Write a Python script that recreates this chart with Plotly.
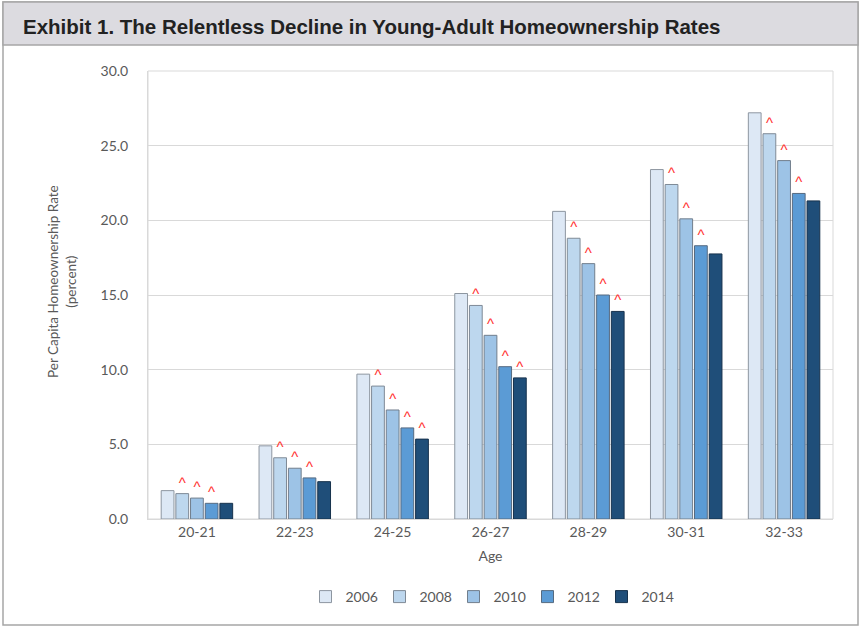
import plotly.graph_objects as go

ages = ["20-21", "22-23", "24-25", "26-27", "28-29", "30-31", "32-33"]
years = ["2006", "2008", "2010", "2012", "2014"]
values = {
    "2006": [1.9, 4.9, 9.7, 15.1, 20.6, 23.4, 27.2],
    "2008": [1.7, 4.1, 8.9, 14.3, 18.8, 22.4, 25.8],
    "2010": [1.4, 3.4, 7.3, 12.3, 17.1, 20.1, 24.0],
    "2012": [1.05, 2.75, 6.1, 10.2, 15.0, 18.3, 21.8],
    "2014": [1.05, 2.5, 5.35, 9.45, 13.9, 17.75, 21.3],
}
# significance markers (^) per year and age group
significant = {
    "2006": [0, 0, 0, 0, 0, 0, 0],
    "2008": [1, 1, 1, 1, 1, 1, 1],
    "2010": [1, 1, 1, 1, 1, 1, 1],
    "2012": [1, 1, 1, 1, 1, 1, 1],
    "2014": [0, 0, 1, 1, 1, 0, 0],
}
colors = {
    "2006": "#dde8f5",
    "2008": "#bdd7ee",
    "2010": "#9dc3e6",
    "2012": "#5b9bd5",
    "2014": "#1f4e79",
}
lines = {
    "2006": "#8d96a0",
    "2008": "#7f8a96",
    "2010": "#717e8c",
    "2012": "#566a80",
    "2014": "#17324d",
}

W, H = 861, 627
L, R, T, B = 148, 833, 71, 519

fig = go.Figure()
for yr in years:
    fig.add_trace(go.Bar(
        name=yr, x=ages, y=values[yr],
        marker=dict(color=colors[yr], line=dict(color=lines[yr], width=1)),
        text=["^" if s else "" for s in significant[yr]],
        textposition="outside", constraintext="none", cliponaxis=False,
        textfont=dict(color="#ff3030", size=15, family="Liberation Sans"),
        hoverinfo="x+y+name",
    ))

def px(x):
    return (x - L) / (R - L)

def py(y):
    return (B - y) / (B - T)

shapes = [
    # outer frame
    dict(type="rect", xref="paper", yref="paper", x0=px(3), x1=px(858), y0=py(625), y1=py(2),
         line=dict(color="#a6a6a6", width=1.5), fillcolor="rgba(0,0,0,0)", layer="below"),
    # header band
    dict(type="rect", xref="paper", yref="paper", x0=px(3), x1=px(858), y0=py(45), y1=py(2),
         line=dict(color="#a6a6a6", width=1.5), fillcolor="#dcdbe0", layer="below"),
    # plot area border
    dict(type="rect", xref="paper", yref="paper", x0=0, x1=1, y0=0, y1=1,
         line=dict(color="#d9d9d9", width=1), fillcolor="rgba(0,0,0,0)", layer="below"),
]

fig.update_layout(
    width=W, height=H,
    margin=dict(l=L, r=W - R, t=T, b=H - B, pad=0),
    paper_bgcolor="white", plot_bgcolor="white",
    barmode="group", bargap=0.25, bargroupgap=0.13,
    shapes=shapes,
    font=dict(family="Lato, Open Sans, sans-serif", color="#595959", size=14),
    annotations=[
        dict(text="<b>Exhibit 1. The Relentless Decline in Young-Adult Homeownership Rates</b>",
             xref="paper", yref="paper", x=px(21), y=py(27), xanchor="left", yanchor="middle",
             showarrow=False,
             font=dict(family="Liberation Sans, Arial", size=20.5, color="#222222")),
        dict(text="Per Capita Homeownership Rate<br>(percent)", textangle=-90,
             xref="paper", yref="paper", x=px(62), y=py(282), xanchor="center", yanchor="middle",
             showarrow=False, font=dict(size=13.5, color="#595959")),
    ],
    xaxis=dict(
        title=dict(text="Age", font=dict(size=14, color="#595959"), standoff=12),
        showline=True, linecolor="#d9d9d9", linewidth=1, ticks="",
        tickfont=dict(size=14, color="#595959"),
    ),
    yaxis=dict(
        range=[0, 30], dtick=5, tickformat=".1f",
        showgrid=True, gridcolor="#d9d9d9", gridwidth=1,
        zeroline=False, showline=True, linecolor="#d9d9d9",
        tickfont=dict(size=14, color="#595959"), ticks="",
        ticklabelstandoff=16,
    ),
    legend=dict(
        orientation="h", x=0.5, xanchor="center", y=py(597), yanchor="middle",
        font=dict(size=14, color="#595959"), itemwidth=30, traceorder="normal",
        entrywidth=29, bgcolor="rgba(0,0,0,0)",
    ),
)

fig.write_html("out.html", config={"displayModeBar": False},
               post_script="document.body.style.margin='0px';document.body.style.overflow='hidden';")
